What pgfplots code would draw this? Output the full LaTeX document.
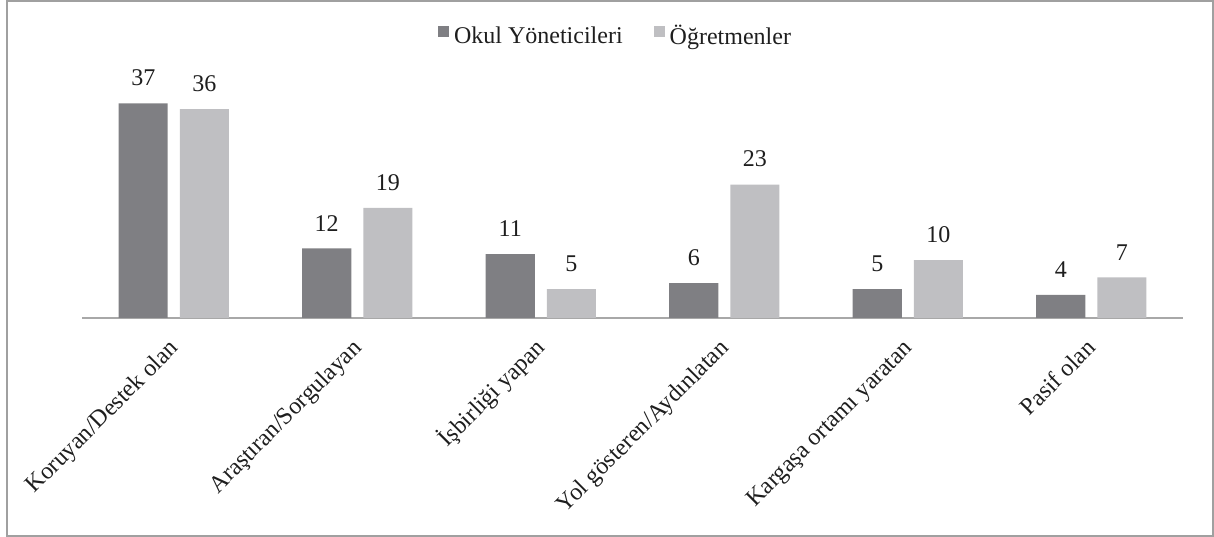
\documentclass[border=0pt]{standalone}
\usepackage{fontspec}
\setmainfont{Liberation Serif}
\usepackage{pgfplots}
\pgfplotsset{compat=1.18}
\definecolor{darkbar}{HTML}{7F7F83}
\definecolor{lightbar}{HTML}{BFBFC2}
\definecolor{axisgray}{HTML}{A8A8A8}
\definecolor{framegray}{HTML}{A0A0A0}
\definecolor{txt}{HTML}{1E1E1E}
\begin{document}
\fontsize{12bp}{14bp}\selectfont
\begin{tikzpicture}[font=\fontsize{12bp}{14bp}\selectfont]
\useasboundingbox (0,0) rectangle (607bp,268.5bp);
\draw[framegray, line width=0.75bp] (3.5bp,0.5bp) rectangle (606.5bp,268bp);
\begin{axis}[
  at={(41bp,109.5bp)}, anchor=south west,
  scale only axis, width=550.5bp, height=116bp,
  xmin=-0.5, xmax=5.5, ymin=0, ymax=40,
  axis x line*=bottom, axis y line=none,
  x axis line style={draw=axisgray, line width=0.75bp, -},
  xtick={0,...,5},
  xticklabels={Koruyan/Destek olan, Araştıran/Sorgulayan, İşbirliği yapan, Yol gösteren/Aydınlatan, Kargaşa ortamı yaratan, Pasif olan},
  major tick length=0pt,
  xticklabel style={xshift=3bp, yshift=-15.5bp, rotate=45, anchor=base east, inner sep=0pt, text=txt},
  ybar, bar width=24.5bp,
  nodes near coords,
  /pgf/number format/assume math mode=true,
  every node near coord/.append style={anchor=south, inner sep=0pt, yshift=8.5bp, text=txt},
  legend columns=2,
  legend style={at={(0.4837,1.2112)}, anchor=center, draw=none, fill=none,
    nodes={inner sep=0pt, text=txt},
    /tikz/every odd column/.append style={column sep=2.5bp},
    /tikz/every even column/.append style={column sep=15.5bp}},
  legend image code/.code={\fill[#1] (0bp,-0.2bp) rectangle (5.5bp,5.3bp);},
]
\addplot[draw=none, fill=darkbar, bar shift=-15.25bp] coordinates {(0,37) (1,12) (2,11) (3,6) (4,5) (5,4)};
\addlegendentry{Okul Yöneticileri}
\addplot[draw=none, fill=lightbar, bar shift=15.25bp] coordinates {(0,36) (1,19) (2,5) (3,23) (4,10) (5,7)};
\addlegendentry{Öğretmenler}
\end{axis}
\end{tikzpicture}
\end{document}
